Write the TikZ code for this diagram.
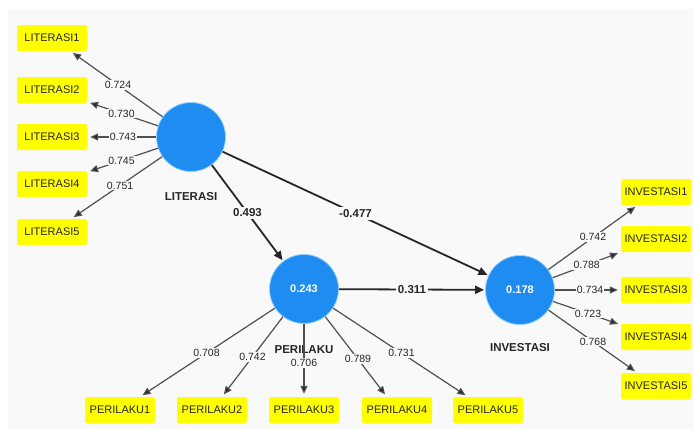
\documentclass[tikz,border=0pt]{standalone}
\usepackage{fontspec}
\setmainfont{Liberation Sans}
\usetikzlibrary{arrows.meta,calc}
\definecolor{bg}{HTML}{F9F9F9}
\definecolor{lv}{RGB}{30,140,240}
\definecolor{lvrim}{RGB}{150,210,255}
\definecolor{ind}{HTML}{FFFF00}
\definecolor{txt}{HTML}{262626}
\definecolor{ld}{HTML}{505050}
\begin{document}
\begin{tikzpicture}[x=1pt,y=-1pt,
 latent/.style={circle,fill=lv,minimum size=69pt,inner sep=0pt,text=white,font=\fontsize{11}{12}\selectfont\bfseries,draw=lvrim,line width=0.8pt},
 indbox/.style={fill=ind,minimum width=70pt,minimum height=26pt,inner sep=1pt,text=txt,font=\fontsize{11}{12}\selectfont,rounded corners=1.5pt},
 lvname/.style={text=txt,font=\fontsize{11.5}{12}\selectfont\bfseries},
 loading/.style={draw=ld,line width=1.2pt,-{Triangle[length=8pt,width=7pt,fill=black!85]},shorten >=3pt},
 pathedge/.style={draw=black!85,line width=1.8pt,-{Triangle[length=9pt,width=8pt]},shorten >=1pt},
 ldlbl/.style={fill=bg,inner sep=1.2pt,text=txt,font=\fontsize{10.5}{11}\selectfont},
 pathlbl/.style={fill=bg,inner sep=2pt,text=black!85,font=\fontsize{11.5}{12}\selectfont\bfseries}]
\useasboundingbox (0,0) rectangle (694,429);
\fill[white] (0,0) rectangle (694,429);
\fill[bg] (8,9) rectangle (694,429);

% latent variables
\node[latent] (LIT) at (191,137) {};
\node[latent] (PER) at (304,289) {0.243};
\node[latent] (INV) at (520,290) {0.178};
\node[lvname] (LITn) at (191,197) {LITERASI};
\node[lvname] (PERn) at (304,350) {PERILAKU};
\node[lvname] (INVn) at (520,348) {INVESTASI};

% indicators
\node[indbox] (L1) at (52,38) {LITERASI1};
\node[indbox] (L2) at (52,90) {LITERASI2};
\node[indbox] (L3) at (52,137) {LITERASI3};
\node[indbox] (L4) at (52,184) {LITERASI4};
\node[indbox] (L5) at (52,232) {LITERASI5};

\node[indbox] (P1) at (120,410) {PERILAKU1};
\node[indbox] (P2) at (212,410) {PERILAKU2};
\node[indbox] (P3) at (304,410) {PERILAKU3};
\node[indbox] (P4) at (397,410) {PERILAKU4};
\node[indbox] (P5) at (488,410) {PERILAKU5};

\node[indbox] (I1) at (656,192) {INVESTASI1};
\node[indbox] (I2) at (656,239) {INVESTASI2};
\node[indbox] (I3) at (656,290) {INVESTASI3};
\node[indbox] (I4) at (656,337) {INVESTASI4};
\node[indbox] (I5) at (656,386) {INVESTASI5};

% loadings
\foreach \t in {L1,L2,L3,L4,L5} {\draw[loading] (LIT) -- (\t);}
\foreach \t in {P1,P2,P3,P4,P5} {\draw[loading] (PER) -- (\t);}
\foreach \t in {I1,I2,I3,I4,I5} {\draw[loading] (INV) -- (\t);}

\node[ldlbl] (l1) at ($(LIT)!0.525!(L1)$) {0.724};
\node[ldlbl] (l2) at ($(LIT)!0.50!(L2)$) {0.730};
\node[ldlbl] (l3) at ($(LIT)!0.49!(L3)$) {0.743};
\node[ldlbl] (l4) at ($(LIT)!0.50!(L4)$) {0.745};
\node[ldlbl] (l5) at ($(LIT)!0.51!(L5)$) {0.751};

\node[ldlbl] (p1) at ($(PER)!0.53!(P1)$) {0.708};
\node[ldlbl] (p2) at ($(PER)!0.56!(P2)$) {0.742};
\node[ldlbl] (p3) at ($(PER)!0.61!(P3)$) {0.706};
\node[ldlbl] (p4) at ($(PER)!0.58!(P4)$) {0.789};
\node[ldlbl] (p5) at ($(PER)!0.53!(P5)$) {0.731};

\node[ldlbl] (i1) at ($(INV)!0.537!(I1)$) {0.742};
\node[ldlbl] (i2) at ($(INV)!0.49!(I2)$) {0.788};
\node[ldlbl] (i3) at ($(INV)!0.515!(I3)$) {0.734};
\node[ldlbl] (i4) at ($(INV)!0.50!(I4)$) {0.723};
\node[ldlbl] (i5) at ($(INV)!0.537!(I5)$) {0.768};

% structural paths
\draw[pathedge] (LIT) -- node[pathlbl]{0.493} (PER);
\draw[pathedge] (LIT) -- node[pathlbl]{-0.477} (INV);
\draw[pathedge] (PER) -- node[pathlbl]{0.311} (INV);
\end{tikzpicture}
\end{document}
